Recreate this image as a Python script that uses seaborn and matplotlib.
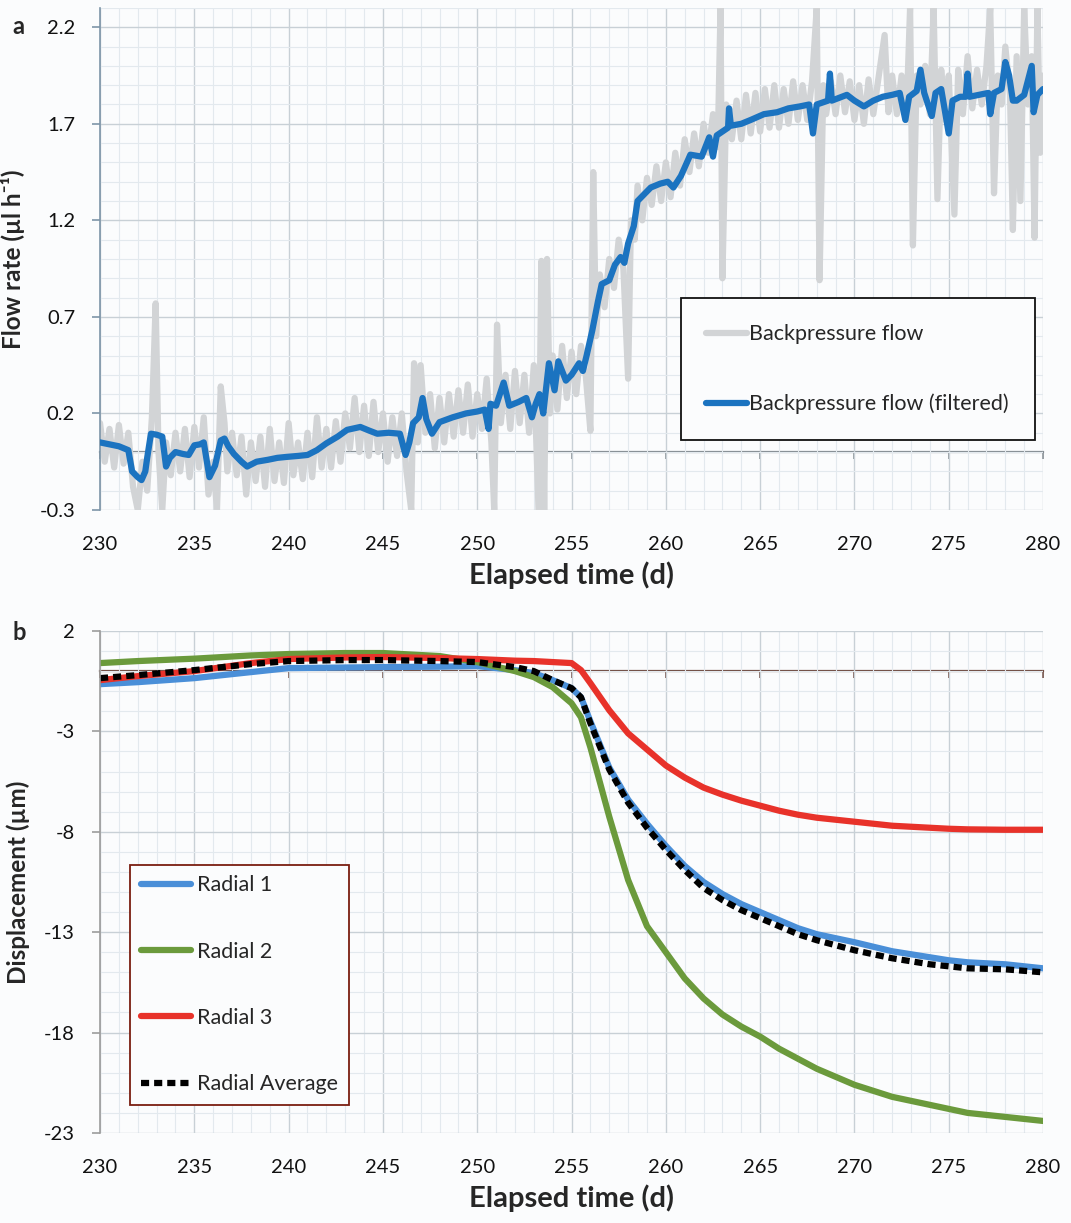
import matplotlib.pyplot as plt
import seaborn as sns
from matplotlib.ticker import MultipleLocator

# ---- panel a: backpressure flow ----
raw_t = [230.00, 230.25, 230.50, 230.75, 231.00, 231.25, 231.50, 231.75, 232.00, 232.25,
         232.50, 232.75, 232.95, 233.10, 233.30, 233.50, 233.75, 234.00, 234.25, 234.50,
         234.75, 235.00, 235.25, 235.50, 235.75, 236.00, 236.20, 236.40, 236.60, 236.75,
         237.00, 237.25, 237.50, 237.75, 238.00, 238.25, 238.50, 238.75, 239.00, 239.25,
         239.50, 239.75, 240.00, 240.25, 240.50, 240.75, 241.00, 241.25, 241.50, 241.75,
         242.00, 242.25, 242.50, 242.75, 243.00, 243.25, 243.50, 243.75, 244.00, 244.25,
         244.50, 244.75, 245.00, 245.25, 245.50, 245.75, 246.00, 246.25, 246.50, 246.65,
         246.85, 247.00, 247.25, 247.50, 247.75, 248.00, 248.25, 248.50, 248.75, 249.00,
         249.25, 249.50, 249.75, 250.00, 250.25, 250.50, 250.75, 250.90, 251.05, 251.25,
         251.50, 251.75, 252.00, 252.25, 252.50, 252.75, 253.00, 253.25, 253.40, 253.55,
         253.70, 253.85, 254.00, 254.25, 254.50, 254.75, 255.00, 255.25, 255.50, 255.75,
         256.00, 256.15, 256.30, 256.50, 256.75, 257.00, 257.25, 257.50, 257.75, 258.00,
         258.15, 258.35, 258.50, 258.75, 259.00, 259.25, 259.50, 259.75, 260.00, 260.25,
         260.50, 260.75, 261.00, 261.25, 261.50, 261.75, 262.00, 262.25, 262.50, 262.75,
         262.90, 263.00, 263.20, 263.50, 263.75, 264.00, 264.25, 264.50, 264.75, 265.00,
         265.25, 265.50, 265.75, 266.00, 266.25, 266.50, 266.75, 267.00, 267.25, 267.50,
         267.75, 268.00, 268.15, 268.35, 268.50, 268.75, 269.00, 269.25, 269.50, 269.75,
         270.00, 270.25, 270.50, 270.75, 271.00, 271.25, 271.60, 271.80, 272.00, 272.25,
         272.50, 272.75, 272.95, 273.10, 273.30, 273.50, 273.75, 274.00, 274.20, 274.40,
         274.60, 274.80, 275.00, 275.30, 275.50, 275.75, 276.00, 276.25, 276.50, 276.75,
         277.00, 277.20, 277.40, 277.60, 277.80, 278.00, 278.25, 278.40, 278.60, 278.80,
         279.00, 279.20, 279.40, 279.55, 279.70, 279.85, 280.00]
raw_flow = [0.15, -0.05, 0.12, -0.08, 0.14, -0.06, 0.10, -0.18, -0.30, -0.05,
            -0.20, 0.18, 0.77, 0.00, -0.30, 0.05, -0.12, 0.10, -0.10, 0.12,
            -0.13, 0.13, -0.08, 0.18, -0.22, -0.05, -0.30, 0.34, 0.15, -0.10,
            0.10, -0.12, 0.08, -0.22, 0.05, -0.15, 0.08, -0.18, 0.12, -0.15,
            0.05, -0.16, 0.15, -0.12, 0.05, -0.14, 0.10, -0.13, 0.18, -0.08,
            0.12, -0.08, 0.16, -0.05, 0.20, 0.02, 0.28, 0.00, 0.24, -0.02,
            0.26, 0.00, 0.20, -0.05, 0.18, -0.02, 0.20, -0.10, -0.30, 0.46,
            0.05, 0.45, 0.10, 0.30, 0.02, 0.28, 0.05, 0.30, 0.08, 0.32,
            0.10, 0.35, 0.08, 0.30, 0.12, 0.38, 0.05, -0.30, 0.66, 0.15,
            0.40, 0.12, 0.42, 0.15, 0.40, 0.10, 0.45, -0.30, 0.99, -0.30,
            1.00, 0.20, 0.50, 0.22, 0.55, 0.28, 0.52, 0.30, 0.55, 0.40,
            0.11, 1.45, 0.60, 0.92, 0.75, 1.00, 0.85, 1.10, 0.95, 0.38,
            1.20, 1.10, 1.38, 1.20, 1.42, 1.28, 1.48, 1.30, 1.50, 1.32,
            1.55, 1.38, 1.62, 1.45, 1.65, 1.48, 1.70, 1.55, 1.75, 1.58,
            2.30, 0.90, 1.80, 1.62, 1.82, 1.62, 1.85, 1.65, 1.86, 1.66,
            1.88, 1.68, 1.90, 1.68, 1.88, 1.70, 1.92, 1.72, 1.90, 1.72,
            1.92, 2.30, 0.89, 1.90, 1.75, 1.92, 1.75, 1.95, 1.76, 1.92,
            1.72, 1.90, 1.70, 1.93, 1.75, 1.92, 2.16, 1.76, 1.95, 1.75,
            1.95, 1.72, 2.30, 1.07, 1.95, 1.80, 2.00, 1.75, 2.30, 1.31,
            1.98, 1.72, 1.95, 1.23, 1.98, 1.75, 2.05, 1.78, 1.98, 1.80,
            2.00, 2.30, 1.34, 1.95, 1.80, 2.10, 1.85, 1.15, 2.05, 1.30,
            2.30, 1.80, 2.05, 1.11, 2.30, 1.55, 1.95]

filt_t = [230.0, 230.5, 231.0, 231.5, 231.7, 232.0, 232.2, 232.4, 232.5, 232.7,
          233.0, 233.3, 233.5, 233.7, 234.0, 234.4, 234.7, 235.0, 235.3, 235.5,
          235.8, 236.1, 236.4, 236.6, 236.8, 237.1, 237.5, 237.8, 238.3, 238.9,
          239.4, 239.9, 240.5, 241.0, 241.5, 242.0, 242.6, 243.1, 243.8, 244.3,
          244.7, 245.3, 245.9, 246.2, 246.4, 246.6, 246.9, 247.1, 247.3, 247.6,
          248.0, 248.7, 249.4, 250.0, 250.4, 250.6, 250.7, 251.0, 251.4, 251.7,
          252.2, 252.6, 252.9, 253.1, 253.3, 253.5, 253.8, 254.1, 254.3, 254.7,
          255.0, 255.4, 255.6, 255.8, 256.1, 256.4, 256.6, 257.0, 257.3, 257.6,
          257.8, 258.0, 258.3, 258.5, 258.8, 259.2, 259.7, 260.1, 260.4, 260.8,
          261.3, 261.9, 262.3, 262.5, 262.7, 263.0, 263.3, 263.35, 263.45, 264.0,
          264.5, 265.2, 265.9, 266.5, 267.1, 267.6, 267.8, 268.0, 268.6, 268.7,
          268.8, 269.6, 270.0, 270.5, 271.0, 271.5, 272.0, 272.4, 272.7, 272.9,
          273.3, 273.5, 273.7, 274.1, 274.3, 274.6, 275.0, 275.2, 275.6, 275.9,
          276.0, 276.1, 276.6, 277.1, 277.2, 277.4, 277.8, 278.0, 278.2, 278.4,
          278.6, 279.0, 279.4, 279.5, 279.7, 280.0]
filt_flow = [0.05, 0.04, 0.03, 0.01, -0.10, -0.13, -0.145, -0.10, -0.03, 0.095,
             0.09, 0.08, -0.075, -0.03, 0.00, -0.01, -0.015, 0.035, 0.04, 0.05,
             -0.13, -0.07, 0.06, 0.07, 0.03, -0.01, -0.05, -0.075, -0.05, -0.04,
             -0.03, -0.025, -0.02, -0.015, 0.01, 0.045, 0.08, 0.115, 0.13, 0.11,
             0.095, 0.10, 0.095, -0.015, 0.05, 0.15, 0.18, 0.28, 0.17, 0.095,
             0.155, 0.18, 0.20, 0.21, 0.22, 0.12, 0.25, 0.24, 0.36, 0.24,
             0.26, 0.28, 0.18, 0.25, 0.30, 0.20, 0.46, 0.32, 0.47, 0.37,
             0.40, 0.46, 0.42, 0.50, 0.63, 0.78, 0.87, 0.89, 0.97, 1.01,
             0.98, 1.08, 1.17, 1.30, 1.33, 1.37, 1.39, 1.40, 1.37, 1.43,
             1.54, 1.53, 1.63, 1.53, 1.64, 1.66, 1.68, 1.78, 1.69, 1.70,
             1.72, 1.75, 1.76, 1.78, 1.79, 1.80, 1.65, 1.80, 1.82, 1.96,
             1.82, 1.85, 1.82, 1.79, 1.82, 1.84, 1.85, 1.86, 1.72, 1.84,
             1.87, 1.98, 1.86, 1.74, 1.86, 1.88, 1.65, 1.82, 1.84, 1.84,
             1.96, 1.84, 1.85, 1.86, 1.75, 1.86, 1.88, 2.02, 1.95, 1.82,
             1.82, 1.85, 2.00, 1.76, 1.85, 1.88]

# ---- panel b: radial displacement ----
disp_t = [230, 232, 235, 238, 240, 243, 245, 248, 250, 252, 253, 254, 255, 255.5,
          256, 257, 258, 259, 260, 261, 262, 263, 264, 265, 266, 267, 268, 270,
          272, 274, 275, 276, 278, 280]
radial1 = [-0.65, -0.55, -0.35, -0.05, 0.15, 0.18, 0.2, 0.22, 0.25, 0.05, -0.1, -0.45, -0.85, -1.3,
           -2.5, -4.8, -6.4, -7.6, -8.7, -9.7, -10.5, -11.1, -11.6, -12.0, -12.4, -12.8, -13.1, -13.5,
           -13.95, -14.25, -14.4, -14.5, -14.6, -14.8]
radial2 = [0.4, 0.5, 0.62, 0.78, 0.85, 0.9, 0.9, 0.75, 0.45, 0.0, -0.3, -0.8, -1.6, -2.3,
           -3.8, -7.25, -10.4, -12.7, -14.0, -15.3, -16.3, -17.1, -17.7, -18.2, -18.8, -19.3, -19.8, -20.6,
           -21.2, -21.6, -21.8, -22.0, -22.2, -22.4]
radial3 = [-0.45, -0.25, 0.0, 0.4, 0.6, 0.68, 0.7, 0.65, 0.6, 0.52, 0.5, 0.45, 0.4, 0.05,
           -0.6, -1.95, -3.1, -3.9, -4.7, -5.3, -5.8, -6.15, -6.45, -6.7, -6.95, -7.15, -7.3, -7.5,
           -7.7, -7.8, -7.85, -7.88, -7.9, -7.9]
radial_avg = [-0.35, -0.2, 0.05, 0.35, 0.5, 0.55, 0.55, 0.5, 0.45, 0.2, 0.0, -0.45, -0.85, -1.3,
              -2.6, -4.9, -6.55, -7.8, -8.9, -9.9, -10.8, -11.4, -11.9, -12.3, -12.7, -13.1, -13.4, -13.9,
              -14.3, -14.6, -14.7, -14.8, -14.85, -15.0]

x_ticks = [230, 235, 240, 245, 250, 255, 260, 265, 270, 275, 280]
flow_ticks = [-0.3, 0.2, 0.7, 1.2, 1.7, 2.2]
disp_ticks = [-23, -18, -13, -8, -3, 2]

sns.set_theme(style='whitegrid')
plt.rcParams['font.family'] = ['Lato', 'DejaVu Sans']

bg = '#fbfcfd'
fig = plt.figure(figsize=(10.71, 12.23), dpi=100, facecolor=bg)
ax1 = fig.add_axes([0.0934, 0.583, 0.8805, 0.4105])
ax2 = fig.add_axes([0.0934, 0.0736, 0.8805, 0.4105])


def style_axis(ax, yticks, ylim, zero_frac, spine_col, zero_col, ylabel):
    ax.set_facecolor(bg)
    ax.set_xlim(230, 280)
    ax.set_ylim(*ylim)
    ax.set_xticks(x_ticks)
    ax.set_yticks(yticks)
    ax.set_yticklabels([f'{v:g}' for v in yticks])
    ax.xaxis.set_minor_locator(MultipleLocator(1))
    ax.yaxis.set_minor_locator(MultipleLocator((yticks[1] - yticks[0]) / 5))
    ax.grid(which='major', color='#c8d0d6', lw=1.0)
    ax.grid(which='minor', color='#e3e9ee', lw=0.8)
    for s in ['top', 'right', 'bottom']:
        ax.spines[s].set_visible(False)
    ax.spines['left'].set_color(spine_col)
    ax.spines['left'].set_linewidth(1.2)
    ax.tick_params(axis='x', which='major', length=0, pad=19, labelsize=14.5, labelcolor='#111111')
    ax.tick_params(axis='y', which='major', length=6, width=1.2, color=spine_col,
                   left=True, pad=12, labelsize=14.5, labelcolor='#111111')
    ax.tick_params(which='minor', length=0)
    ax.set_xlabel('Elapsed time (d)', fontsize=21, fontweight='bold', labelpad=6)
    ax.set_ylabel(ylabel, fontsize=17.5, fontweight='bold', labelpad=10)
    # horizontal axis line through zero with tick marks pointing down
    sec = ax.secondary_xaxis(zero_frac)
    sec.set_alignment('bottom')
    sec.set_xticks(x_ticks)
    sec.spines['bottom'].set_color(zero_col)
    sec.spines['bottom'].set_linewidth(1.6)
    sec.tick_params(axis='x', length=5, width=1.2, color=zero_col,
                    labelbottom=False, labeltop=False, bottom=True, top=False,
                    direction='out')


# panel a
sns.lineplot(x=raw_t, y=raw_flow, ax=ax1, color='#d2d4d6', lw=4.5,
             label='Backpressure flow', zorder=2)
sns.lineplot(x=filt_t, y=filt_flow, ax=ax1, color='#1b73c0', lw=4.5,
             label='Backpressure flow (filtered)', zorder=3)
style_axis(ax1, flow_ticks, (-0.3, 2.3), 0.3 / 2.6, '#7d95a8', '#848c92',
           'Flow rate (µl h⁻¹)')
leg1 = ax1.legend(loc='center', bbox_to_anchor=(0.619, 0.135, 0.369, 0.291),
                  fontsize=15.5, frameon=True, fancybox=False, edgecolor='#111111',
                  facecolor=bg, framealpha=1, labelspacing=2.3, handlelength=1.9,
                  handletextpad=0.1, borderpad=1.2, borderaxespad=0)
leg1.get_frame().set_linewidth(1.3)

# panel b
sns.lineplot(x=disp_t, y=radial1, ax=ax2, color='#4a8fd8', lw=4.5, label='Radial 1', zorder=2)
sns.lineplot(x=disp_t, y=radial2, ax=ax2, color='#6b9a3c', lw=4.5, label='Radial 2', zorder=2.1)
sns.lineplot(x=disp_t, y=radial3, ax=ax2, color='#e8322a', lw=4.5, label='Radial 3', zorder=2.2)
sns.lineplot(x=disp_t, y=radial_avg, ax=ax2, color='#000000', lw=4.5, label='Radial Average',
             linestyle=(0, (1.3, 0.8)), zorder=2.3)
style_axis(ax2, disp_ticks, (-23, 2), 23 / 25, '#9c9c9c', '#6e4a40',
           'Displacement (µm)')
leg2 = ax2.legend(loc='center', bbox_to_anchor=(0.032, 0.056, 0.232, 0.478),
                  fontsize=15.5, frameon=True, fancybox=False, edgecolor='#7a1e10',
                  facecolor=bg, framealpha=1, labelspacing=2.15, handlelength=2.3,
                  handletextpad=0.3, borderpad=0.5, borderaxespad=0)
leg2.get_frame().set_linewidth(1.3)

fig.text(0.012, 0.978, 'a', fontsize=17, fontweight='bold', ha='left', va='center')
fig.text(0.012, 0.483, 'b', fontsize=17, fontweight='bold', ha='left', va='center')

fig.savefig('out.png', dpi=100, facecolor=bg)
